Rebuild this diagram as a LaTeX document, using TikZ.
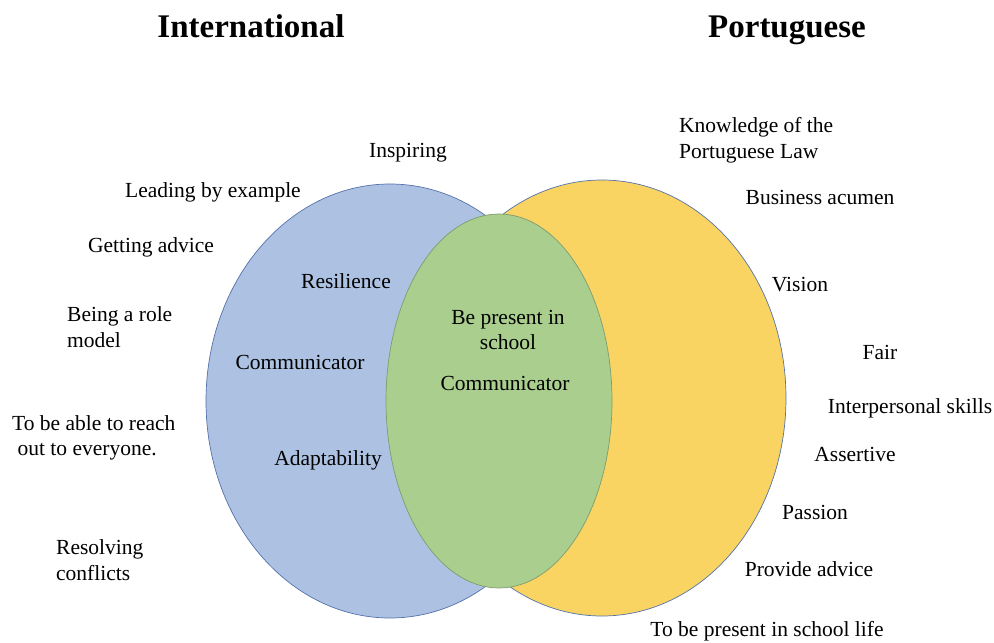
\documentclass[tikz,border=0pt]{standalone}
\usepackage{fontspec}
\setmainfont{Liberation Serif}
\usepackage{tikz}
\definecolor{intlblue}{RGB}{173,194,226}
\definecolor{ptyellow}{RGB}{249,212,99}
\definecolor{bothgreen}{RGB}{169,206,142}
\definecolor{rimblue}{RGB}{84,114,172}
\definecolor{rimgreen}{RGB}{128,156,108}

\begin{document}
\begin{tikzpicture}[x=1pt, y=-1pt,
    trait/.style={font=\fontsize{21.5}{25.5}\selectfont, inner sep=0pt},
    heading/.style={font=\fontsize{33}{38}\selectfont\bfseries, inner sep=0pt, anchor=base}]
            \useasboundingbox (0, 0) rectangle (994, 643);

            % the three sets
            \filldraw[fill=intlblue, draw=rimblue, line width=0.7pt] (390, 401) ellipse (184 and 217);
            \filldraw[fill=ptyellow, draw=rimblue, line width=0.7pt] (602, 398) ellipse (184 and 218);
            \filldraw[fill=bothgreen, draw=rimgreen, line width=0.7pt] (499, 401) ellipse (113 and 187);

            \node[heading] (intl) at (251, 37) {International};
            \node[heading] (port) at (787, 37) {Portuguese};

            % international only
            \node[trait] (inspiring) at (408, 153) {Inspiring};
            \node[trait] (leading) at (213, 192) {Leading by example};
            \node[trait] (getting) at (151, 247) {Getting advice};
            \node[trait, align=left, anchor=west] (rolemodel) at (67, 327) {Being a role\\model};
            \node[trait, align=left, anchor=west] (reach) at (12, 438) {To be able to reach\\\ out to everyone.};
            \node[trait, align=left, anchor=west] (conflicts) at (56, 560) {Resolving\\conflicts};
            \node[trait] (resilience) at (346, 281) {Resilience};
            \node[trait] (comm-intl) at (300, 362) {Communicator};
            \node[trait] (adapt) at (328, 460) {Adaptability};

            % both
            \node[trait, align=center] (present) at (508, 330) {Be present in\\school};
            \node[trait] (comm-both) at (505, 383) {Communicator};

            % portuguese only
            \node[trait, align=left, anchor=west] (law) at (679, 140) {Knowledge of the\\Portuguese Law};
            \node[trait] (business) at (820, 197) {Business acumen};
            \node[trait] (vision) at (800, 285) {Vision};
            \node[trait] (fair) at (880, 352) {Fair};
            \node[trait] (interpersonal) at (910, 408) {Interpersonal skills};
            \node[trait] (assertive) at (855, 454) {Assertive};
            \node[trait] (passion) at (815, 512) {Passion};
            \node[trait] (advice) at (809, 569) {Provide advice};
            \node[trait] (schoollife) at (767, 631) {To be present in school life};
        \end{tikzpicture}
\end{document}
